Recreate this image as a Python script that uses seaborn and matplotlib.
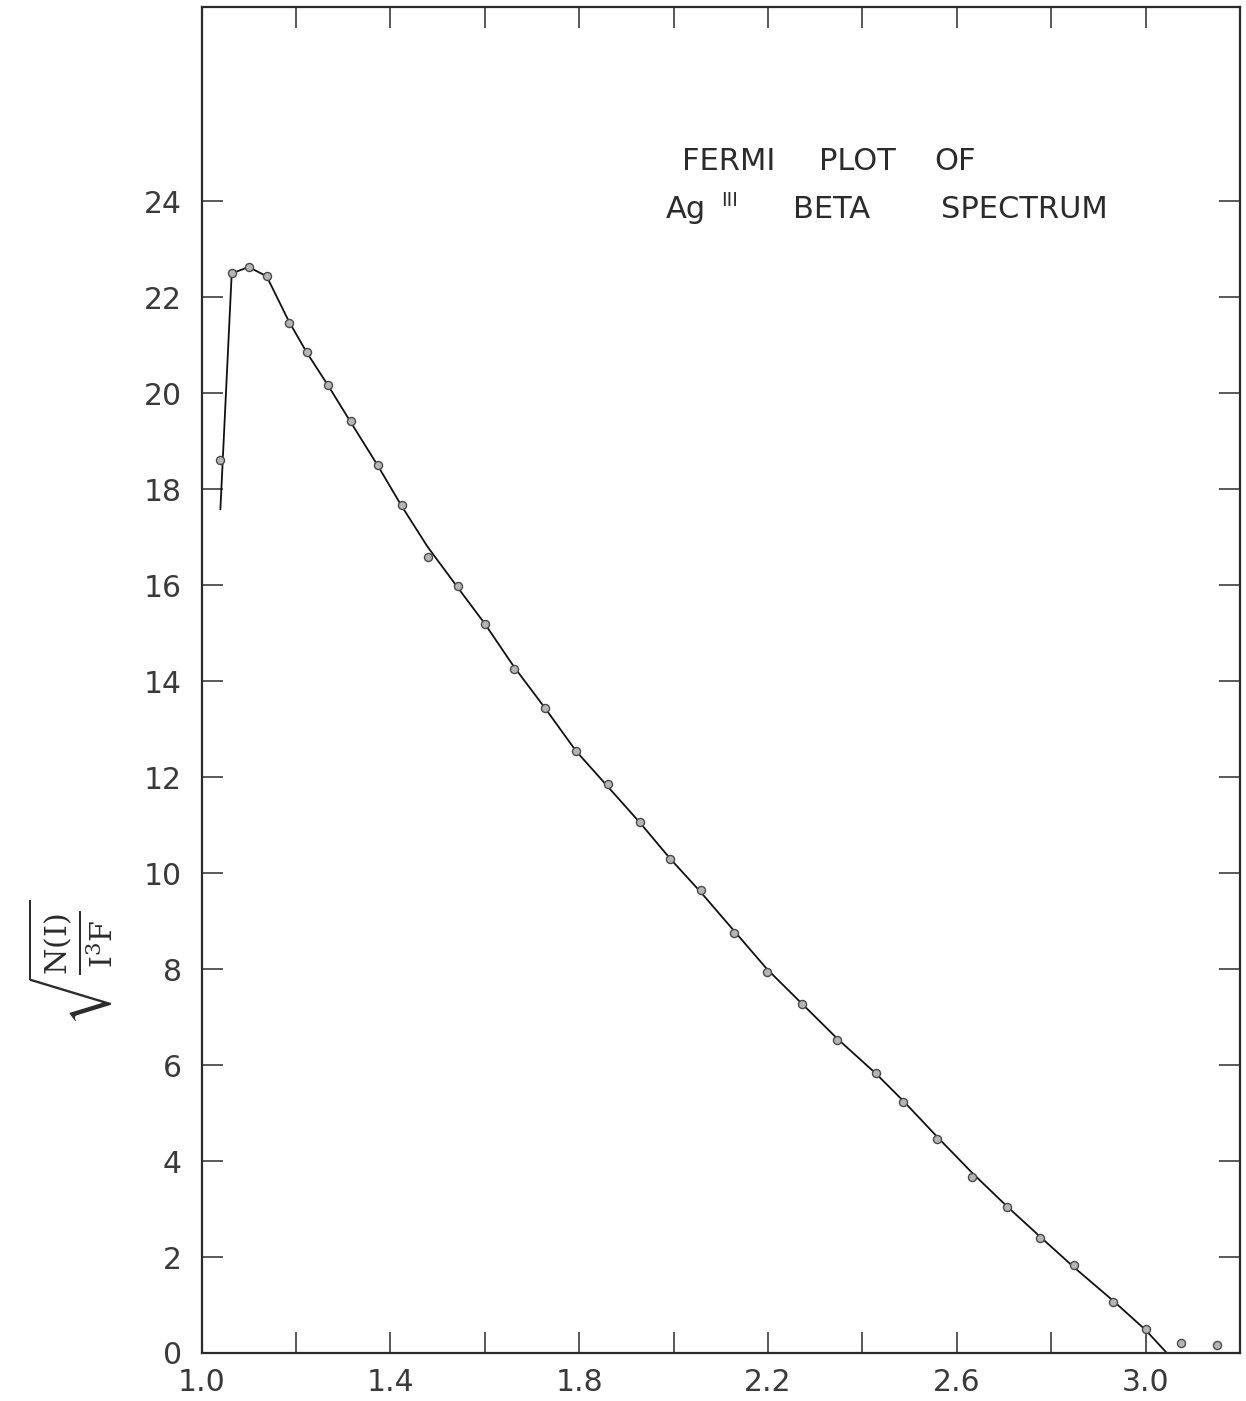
import numpy as np
import pandas as pd
import matplotlib
matplotlib.use("Agg")
import matplotlib.pyplot as plt
import seaborn as sns

# Measured Fermi-plot points for the Ag-111 beta spectrum
energy = [1.040, 1.064, 1.100, 1.138, 1.185, 1.223, 1.269, 1.316, 1.373, 1.424,
          1.479, 1.543, 1.600, 1.662, 1.727, 1.793, 1.861, 1.929, 1.993, 2.058,
          2.128, 2.198, 2.273, 2.347, 2.429, 2.487, 2.559, 2.633, 2.707, 2.777,
          2.849, 2.930, 3.000, 3.076, 3.151]
fermi = [18.60, 22.50, 22.63, 22.44, 21.46, 20.85, 20.17, 19.42, 18.50, 17.67,
         16.58, 15.98, 15.19, 14.25, 13.44, 12.54, 11.85, 11.06, 10.29, 9.65,
         8.75, 7.94, 7.27, 6.52, 5.83, 5.23, 4.46, 3.67, 3.04, 2.40,
         1.83, 1.06, 0.50, 0.21, 0.17]

# Smooth curve drawn through the data, ending at the end-point energy
curve_x = [1.040, 1.064, 1.100, 1.138, 1.185, 1.223, 1.269, 1.316, 1.373, 1.424,
           1.479, 1.543, 1.600, 1.662, 1.727, 1.793, 1.861, 1.929, 1.993, 2.058,
           2.128, 2.198, 2.273, 2.347, 2.429, 2.487, 2.559, 2.633, 2.707, 2.777,
           2.849, 2.930, 3.000, 3.045]
curve_y = [17.58, 22.50, 22.63, 22.44, 21.50, 20.85, 20.15, 19.40, 18.50, 17.65,
           16.80, 15.95, 15.20, 14.30, 13.45, 12.55, 11.80, 11.05, 10.30, 9.60,
           8.80, 8.00, 7.27, 6.55, 5.82, 5.25, 4.50, 3.75, 3.05, 2.42,
           1.78, 1.10, 0.48, 0.00]

x_ticks = [1.0, 1.2, 1.4, 1.6, 1.8, 2.0, 2.2, 2.4, 2.6, 2.8, 3.0]
x_tick_labels = ["1.0", "", "1.4", "", "1.8", "", "2.2", "", "2.6", "", "3.0"]
y_ticks = [0, 2, 4, 6, 8, 10, 12, 14, 16, 18, 20, 22, 24]
y_tick_labels = [str(v) for v in y_ticks]

title_line1 = ["FERMI", "PLOT", "OF"]
title_line2 = ["Ag", "BETA", "SPECTRUM"]
isotope_mass = "III"

sns.set_theme(style="white")
plt.rcParams["font.family"] = ["DejaVu Sans"]

ink = "#2b2b2b"
W, H = 1246, 1401
fig = plt.figure(figsize=(W / 100, H / 100), dpi=100)
fig.patch.set_facecolor("white")
ax = fig.add_axes([201.5 / W, 48 / H, 1038.5 / W, 1346 / H])
ax.set_facecolor("white")

points = pd.DataFrame({"energy": energy, "fermi": fermi})
curve = pd.DataFrame({"energy": curve_x, "fermi": curve_y})

sns.lineplot(data=curve, x="energy", y="fermi", sort=False, estimator=None,
             color="#111111", linewidth=1.3, ax=ax, zorder=2)
sns.scatterplot(data=points, x="energy", y="fermi", marker="o", s=34,
                facecolor="#b5b5b5", edgecolor="#4a4a4a", linewidth=1.0,
                ax=ax, zorder=3)

ax.set_xlim(1.0, 3.2)
ax.set_ylim(0, 28.05)
ax.set_xticks(x_ticks)
ax.set_xticklabels(x_tick_labels)
ax.set_yticks(y_ticks)
ax.set_yticklabels(y_tick_labels)
ax.tick_params(axis="both", direction="in", length=15, width=1.1,
               color=ink, labelcolor="#3a3a3a", labelsize=21.5,
               bottom=True, left=True, top=True, right=True)
ax.tick_params(axis="x", pad=11)
ax.tick_params(axis="y", pad=14)
for side in ax.spines.values():
    side.set_visible(True)
    side.set_color(ink)
    side.set_linewidth(1.6)

ax.set_xlabel("")
ax.set_ylabel(r"$\sqrt{\frac{\mathrm{N(I)}}{\mathrm{I}^{3}\mathrm{F}}}$",
              fontsize=31, color=ink)
ax.yaxis.label.set_math_fontfamily("dejavuserif")
ax.yaxis.set_label_coords(-0.083, 0.29)

# Title block, upper right
def ftext(px, py, s, **kw):
    fig.text(px / W, 1 - py / H, s, color=ink, **kw)

for word, cx in zip(title_line1, [729, 857, 955]):
    ftext(cx, 170, word, fontsize=22, ha="center", va="baseline")
for word, cx in zip(title_line2, [686, 832, 1024]):
    ftext(cx, 218, word, fontsize=22, ha="center", va="baseline")
ftext(730, 206, isotope_mass, fontsize=14, ha="center", va="baseline")

fig.savefig("out.png", dpi=100, facecolor="white")
